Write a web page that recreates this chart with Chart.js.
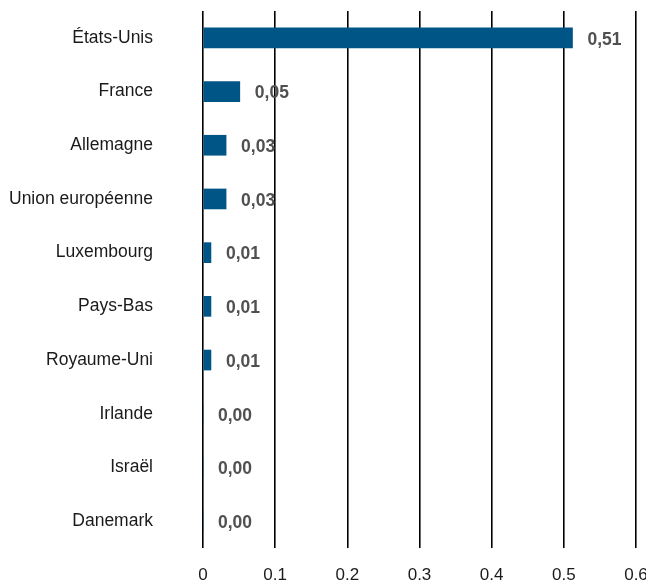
<!DOCTYPE html>
<html lang="fr">
<head>
<meta charset="utf-8">
<title>Graphique</title>
<script src="https://cdn.jsdelivr.net/npm/chart.js@4.4.0/dist/chart.umd.min.js"></script>
<style>
  html, body { margin: 0; padding: 0; background: #fff; overflow: hidden; }
  #wrap { position: absolute; left: 0; top: 0; width: 646px; height: 590px; }
</style>
</head>
<body>
<div id="wrap"><canvas id="graphique"></canvas></div>
<script>
// Données
const pays = [
  "États-Unis", "France", "Allemagne", "Union européenne", "Luxembourg",
  "Pays-Bas", "Royaume-Uni", "Irlande", "Israël", "Danemark"
];
const valeurs = [0.512, 0.051, 0.032, 0.032, 0.011, 0.011, 0.011, 0, 0, 0];
const ticksX = [0, 0.1, 0.2, 0.3, 0.4, 0.5, 0.6];

const POLICE = "'Liberation Sans', Arial, sans-serif";

// étiquettes de valeur au bout des barres
const etiquettes = {
  id: "etiquettes",
  afterDraw(chart) {
    const ctx = chart.ctx;
    const meta = chart.getDatasetMeta(0);
    ctx.save();
    ctx.font = "bold 17.5px " + POLICE;
    ctx.fillStyle = "#505050";
    ctx.textAlign = "left";
    ctx.textBaseline = "middle";
    meta.data.forEach((bar, i) => {
      const txt = valeurs[i].toFixed(2).replace(".", ",");
      ctx.fillText(txt, bar.x + 15, bar.y + 2);
    });
    ctx.restore();
  }
};

new Chart(document.getElementById("graphique"), {
  type: "bar",
  data: {
    labels: pays,
    datasets: [{
      data: valeurs,
      backgroundColor: "#005587",
      borderWidth: 0,
      barThickness: 20
    }]
  },
  options: {
    indexAxis: "y",
    responsive: true,
    maintainAspectRatio: false,
    animation: false,
    layout: { padding: { left: 8, top: 11, right: 10, bottom: 7 } },
    plugins: { legend: { display: false }, tooltip: { enabled: false } },
    scales: {
      x: {
        min: 0,
        max: 0.6,
        z: 1,
        afterBuildTicks: (s) => { s.ticks = ticksX.map((v) => ({ value: v })); },
        afterFit: (s) => { s.paddingLeft = 0; s.paddingRight = 0; s.height = 35; },
        border: { display: false },
        grid: { color: "#000", lineWidth: 1.6, drawTicks: false },
        ticks: {
          padding: 17,
          color: "#1a1a1a",
          font: { family: POLICE, size: 17 },
          callback: (v) => String(v),
          maxRotation: 0
        }
      },
      y: {
        afterFit: (s) => { s.width = 195; s.paddingTop = 0; s.paddingBottom = 0; },
        border: { display: false },
        grid: { display: false, drawTicks: false },
        ticks: {
          padding: 50,
          color: "#1a1a1a",
          font: { family: POLICE, size: 17.5 }
        }
      }
    }
  },
  plugins: [etiquettes]
});
</script>
</body>
</html>
